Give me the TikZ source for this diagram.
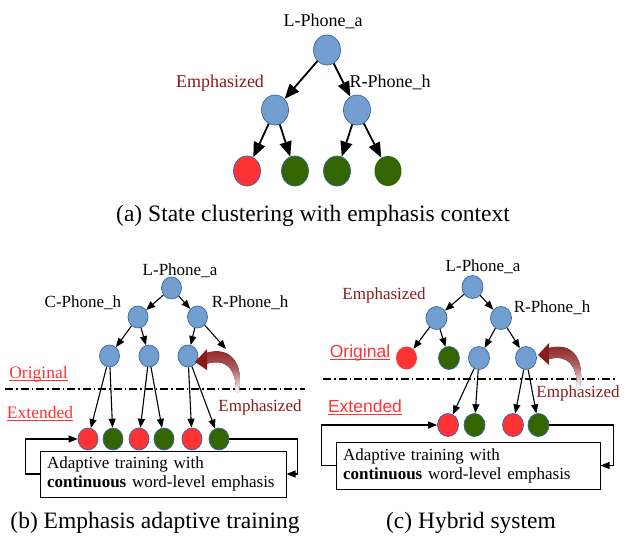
\documentclass[tikz,border=0pt]{standalone}
\usepackage{fontspec}
\setmainfont{Liberation Serif}
\newfontfamily\arialf{Liberation Sans}
\usetikzlibrary{arrows.meta,shapes.geometric}
\definecolor{nblue}{HTML}{729FCF}
\definecolor{nbord}{HTML}{3465A4}
\definecolor{nred}{HTML}{FF3333}
\definecolor{ngreen}{HTML}{336600}
\definecolor{edred}{HTML}{8B1A1A}
\definecolor{lred}{HTML}{FF3333}
\begin{document}
\begin{tikzpicture}[x=1pt,y=-1pt,
  st/.style={ellipse, inner sep=0pt, draw=nbord, line width=0.7pt},
  blu/.style={st, fill=nblue},
  rd/.style={st, fill=nred},
  gr/.style={st, fill=ngreen},
  sa/.style={minimum width=27pt, minimum height=30pt},
  sb/.style={minimum width=20pt, minimum height=22pt},
  sc/.style={minimum width=21pt, minimum height=23pt},
  arA/.style={-{Triangle[length=15pt,width=12pt]}, line width=1.8pt},
  arB/.style={-{Triangle[length=9pt,width=7pt]}, line width=1.1pt},
  lblA/.style={font=\fontsize{18}{20}\selectfont, inner sep=0pt, anchor=base},
  lbl/.style={font=\fontsize{17}{20}\selectfont, inner sep=0pt, anchor=base},
  emr/.style={text=edred},
  orig/.style={font=\fontsize{17.5}{20}\selectfont, inner sep=0pt, anchor=base, text=lred},
  origs/.style={font=\arialf\fontsize{17.5}{20}\selectfont, inner sep=0pt, anchor=base, text=lred},
  uln/.style={lred, line width=0.9pt},
  captxt/.style={font=\fontsize{23.5}{28}\selectfont, inner sep=0pt, anchor=base},
  boxt/.style={draw, line width=1pt, font=\fontsize{17}{19}\selectfont, align=left, inner xsep=7pt, inner ysep=3pt},
  dd/.style={line width=1.1pt, dash pattern=on 8pt off 3pt on 1.5pt off 3pt},
  curvshade/.style={top color=edred, bottom color=white, middle color=edred!70!white}
]
\useasboundingbox (0,0) rectangle (625,538);

% ---------------- Panel (a) ----------------
\node[blu,sa] (a0) at (327,50) {};
\node[blu,sa] (a1) at (275,110) {};
\node[blu,sa] (a2) at (357,110) {};
\node[rd,sa]  (a11) at (247,171) {};
\node[gr,sa]  (a12) at (295,171) {};
\node[gr,sa]  (a21) at (337,171) {};
\node[gr,sa,draw=none]  (a22) at (388,171) {};
\draw[arA] (a0) -- (a1);
\draw[arA] (a0) -- (a2);
\draw[arA] (a1) -- (a11);
\draw[arA] (a1) -- (a12);
\draw[arA] (a2) -- (a21);
\draw[arA] (a2) -- (a22);
\node[lblA] (ta0) at (323,27) {L-Phone\_a};
\node[lblA,emr] (ta1) at (220,87) {Emphasized};
\node[lblA] (ta2) at (390,87) {R-Phone\_h};
\node[captxt] (capa) at (313,221) {(a) State clustering with emphasis context};

% ---------------- Panel (b) ----------------
\node[blu,sb] (b0) at (171.5,288) {};
\node[blu,sb] (b1) at (138,317) {};
\node[blu,sb] (b2) at (197.5,317) {};
\node[blu,sb] (b11) at (109.5,356) {};
\node[blu,sb] (b12) at (149,356) {};
\node[blu,sb] (b21) at (188,356) {};
\coordinate (bx) at (226,349);
\node[rd,sb] (br1) at (88,439) {};
\node[gr,sb] (bg1) at (113,439) {};
\node[rd,sb] (br2) at (139,439) {};
\node[gr,sb] (bg2) at (164,439) {};
\node[rd,sb] (br3) at (192,439) {};
\node[gr,sb] (bg3) at (219,439) {};
\draw[arB] (b0) -- (b1);
\draw[arB] (b0) -- (b2);
\draw[arB] (b1) -- (b11);
\draw[arB] (b1) -- (b12);
\draw[arB] (b2) -- (b21);
\draw[arB] (b2) -- (bx);
\draw[arB] (b11) -- (br1);
\draw[arB] (b11) -- (bg1);
\draw[arB] (b12) -- (br2);
\draw[arB] (b12) -- (bg2);
\draw[arB] (b21) -- (br3);
\draw[arB] (b21) -- (bg3);
\node[lbl] (tb0) at (180,275) {L-Phone\_a};
\node[lbl] (tb1) at (83,307) {C-Phone\_h};
\node[lbl] (tb2) at (250,307) {R-Phone\_h};
\node[orig] (tbo) at (38.5,378) {Original};
\node[orig] (tbe) at (40,418) {Extended};
\draw[uln] ([yshift=-2pt]tbo.base west) -- ([yshift=-2pt]tbo.base east);
\draw[uln] ([yshift=-2pt]tbe.base west) -- ([yshift=-2pt]tbe.base east);
\node[lbl,emr] (tbm) at (260,411) {Emphasized};
\draw[dd] (5,389) -- (305,389);
% curved arrow (b)
\fill[curvshade] (239,392) .. controls (244,362) and (230,346) .. (206,353) -- (206,364) .. controls (226,358) and (236,368) .. (236,392) -- cycle;
\fill[edred] (207,349) -- (195,362) -- (207,370) -- cycle;
% box (b)
\node[boxt, text width=232pt, minimum height=46pt] (bbox) at (163,474) {Adaptive training with\\\textbf{continuous} word-level emphasis};
\draw[arB] (bg3.east) -| ([xshift=11pt]bbox.east) -- (bbox.east);
\draw[arB] (bbox.west) -- ++(-14,0) |- (br1.west);
\node[captxt] (capb) at (155,528) {(b) Emphasis adaptive training};

% ---------------- Panel (c) ----------------
\node[blu,sc] (c0) at (472.5,287) {};
\node[blu,sc] (c1) at (436.5,318) {};
\node[blu,sc] (c2) at (501,318) {};
\node[rd,sc,draw=none] (c11) at (406.5,358) {};
\node[gr,sc] (c12) at (449,358) {};
\node[blu,sc] (c21) at (479,358) {};
\node[blu,sc] (c22) at (526,358) {};
\node[rd,sc] (cr1) at (448,425) {};
\node[gr,sc] (cg1) at (474.5,425) {};
\node[rd,sc] (cr2) at (513,425) {};
\node[gr,sc] (cg2) at (538.5,425) {};
\draw[arB] (c0) -- (c1);
\draw[arB] (c0) -- (c2);
\draw[arB] (c1) -- (c11);
\draw[arB] (c1) -- (c12);
\draw[arB] (c2) -- (c21);
\draw[arB] (c2) -- (c22);
\draw[arB] (c21) -- (cr1);
\draw[arB] (c21) -- (cg1);
\draw[arB] (c22) -- (cr2);
\draw[arB] (c22) -- (cg2);
\node[lbl] (tc0) at (483,271) {L-Phone\_a};
\node[lbl,emr] (tc1) at (384,299) {Emphasized};
\node[lbl] (tc2) at (552,312) {R-Phone\_h};
\node[origs] (tco) at (360,357) {Original};
\node[origs] (tce) at (365,412) {Extended};
\draw[uln] ([yshift=-2.5pt]tco.base west) -- ([yshift=-2.5pt]tco.base east);
\draw[uln] ([yshift=-2.5pt]tce.base west) -- ([yshift=-2.5pt]tce.base east);
\node[lbl,emr] (tcm) at (578,397) {Emphasized};
\draw[dd] (323,379) -- (615,379);
% curved arrow (c)
\fill[curvshade] (580,387) .. controls (585,358) and (572,342) .. (549,348) -- (549,359) .. controls (568,354) and (577,366) .. (577,387) -- cycle;
\fill[edred] (549,343) -- (538,355) -- (549,365) -- cycle;
% box (c)
\node[boxt, text width=250pt, minimum height=47pt] (cbox) at (468,465.5) {Adaptive training with\\\textbf{continuous} word-level emphasis};
\draw[arB] (cg2.east) -| ([xshift=13pt]cbox.east) -- (cbox.east);
\draw[arB] (cbox.west) -- ++(-14,0) |- (cr1.west);
\node[captxt] (capc) at (471,528) {(c) Hybrid system};
\end{tikzpicture}
\end{document}
